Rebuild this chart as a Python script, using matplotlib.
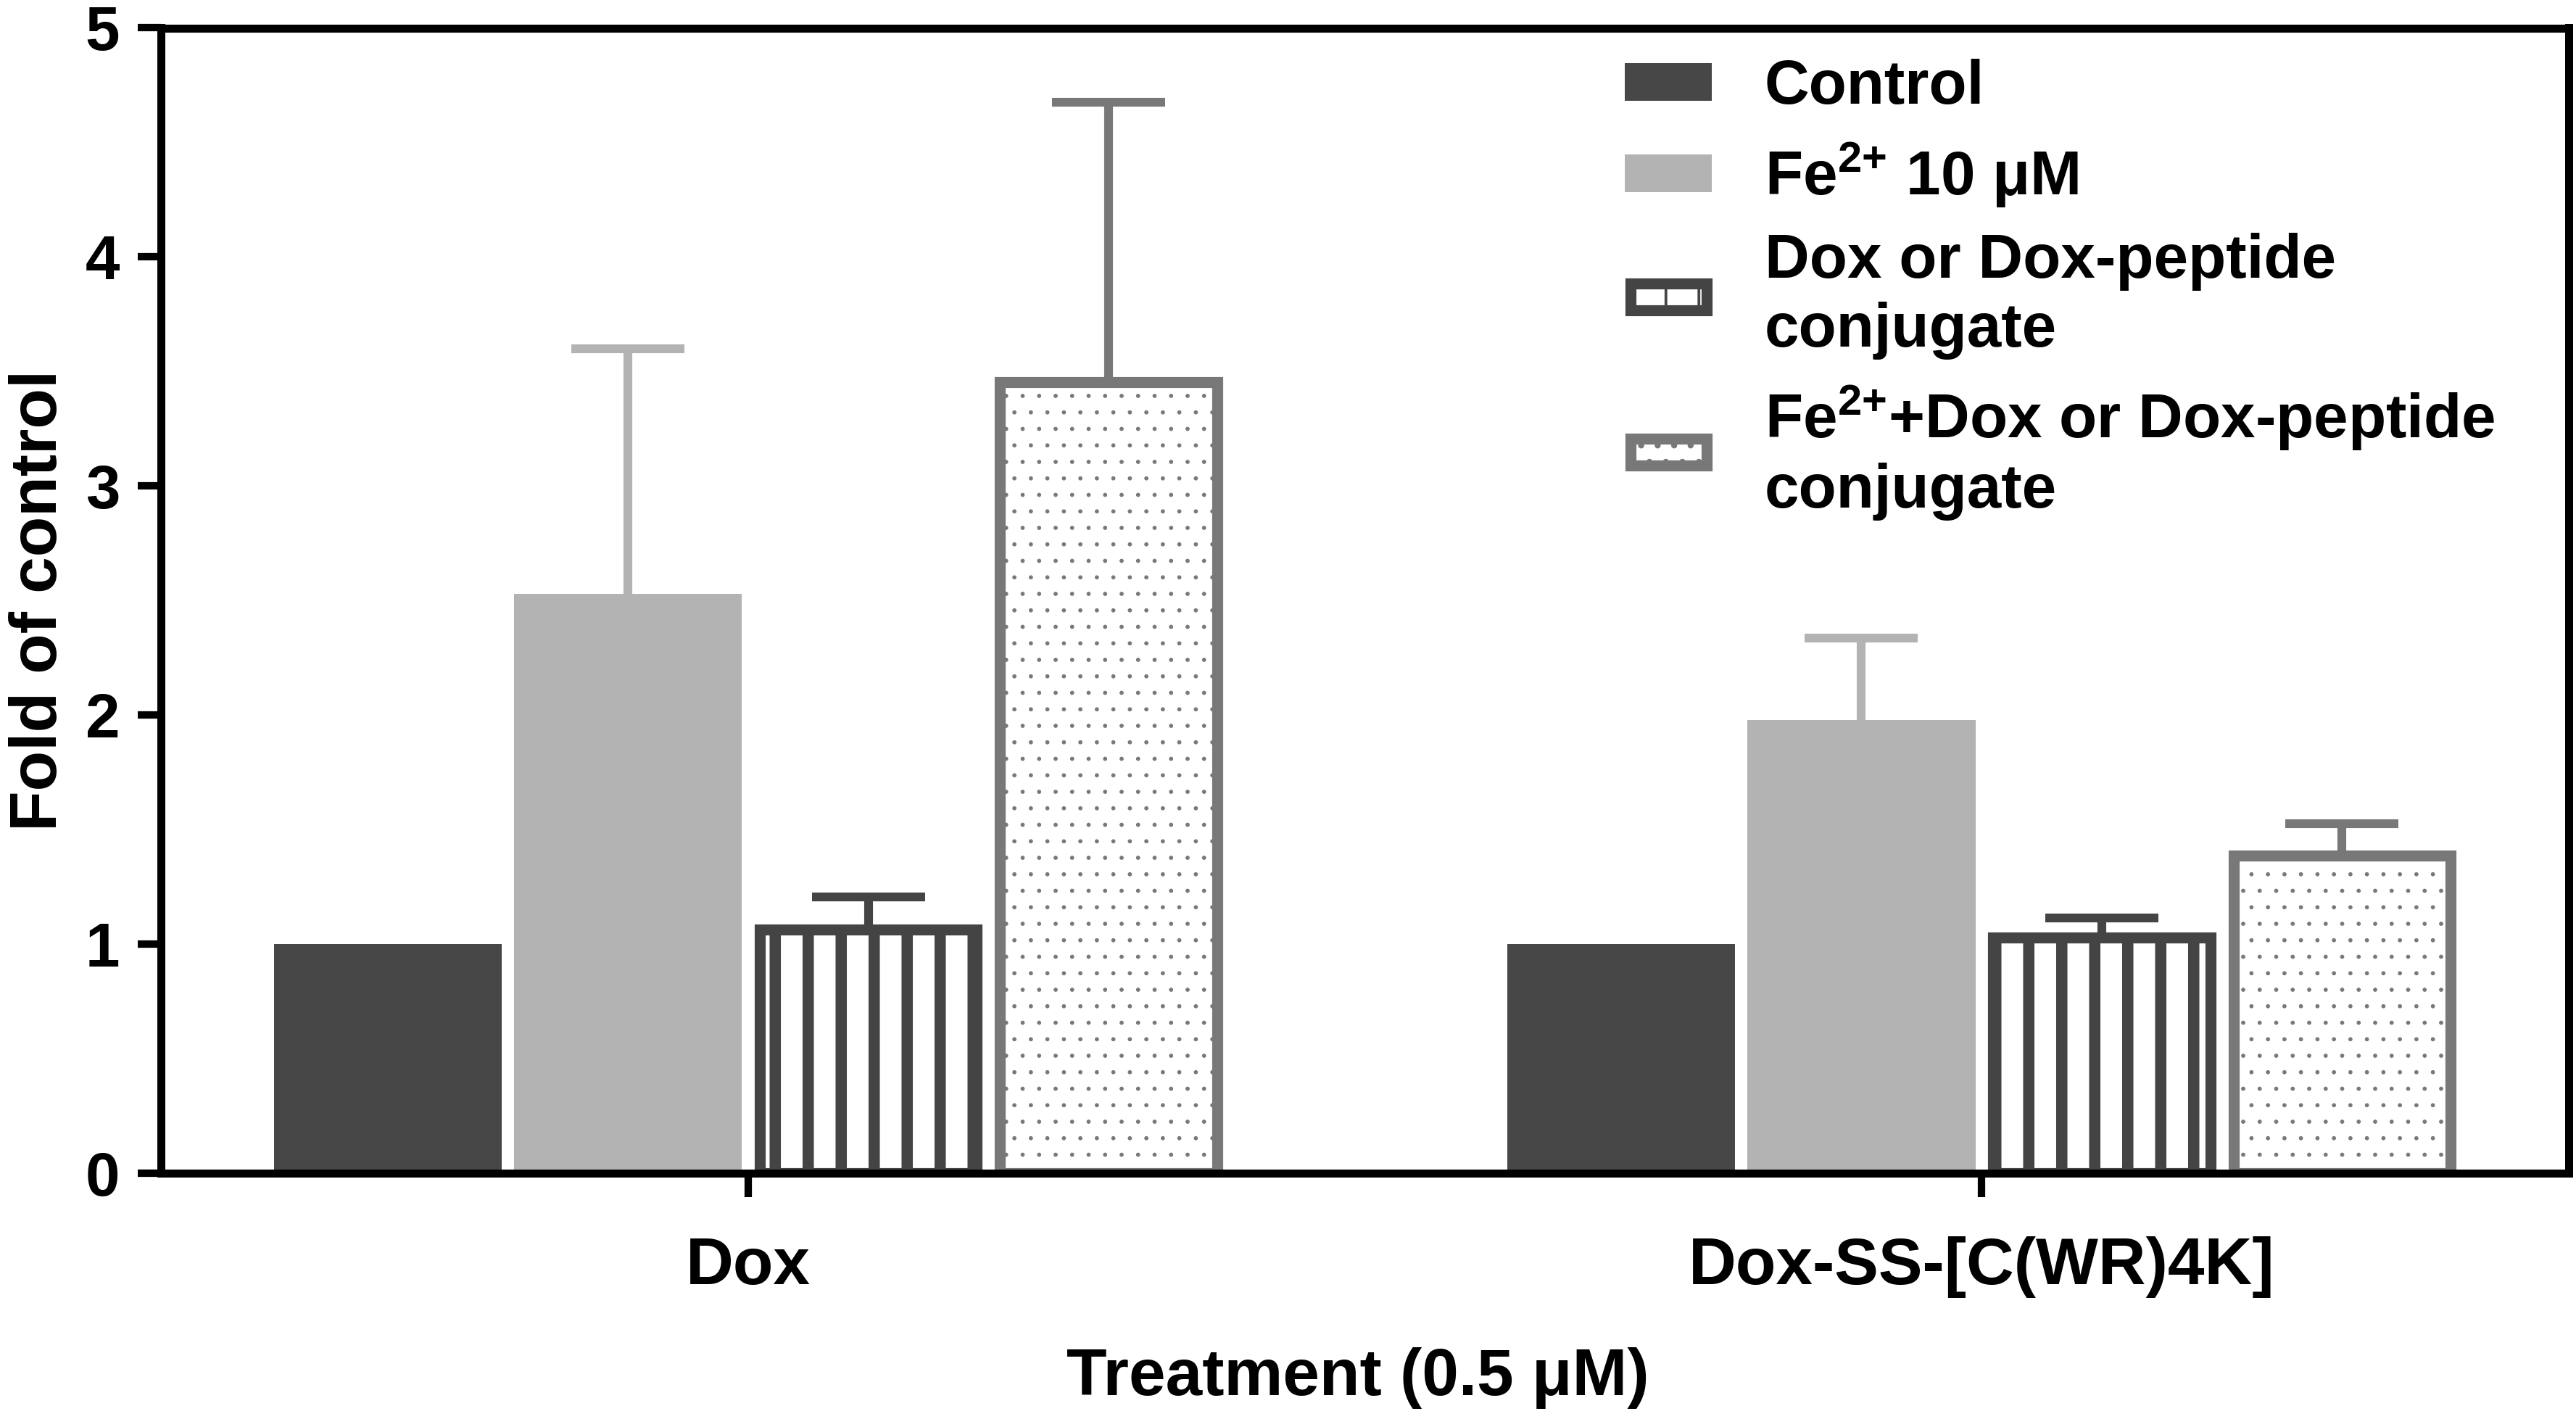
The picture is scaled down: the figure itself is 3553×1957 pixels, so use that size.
import numpy as np
import matplotlib
matplotlib.use('Agg')
import matplotlib.pyplot as plt
import matplotlib.patches as mpatches
from matplotlib.legend_handler import HandlerPatch

DPI = 273

plt.rcParams['font.family'] = ['Liberation Sans', 'DejaVu Sans']
plt.rcParams['font.weight'] = 'bold'
plt.rcParams['mathtext.fontset'] = 'custom'
plt.rcParams['mathtext.rm'] = 'Liberation Sans:bold'
plt.rcParams['mathtext.bf'] = 'Liberation Sans:bold'
plt.rcParams['mathtext.it'] = 'Liberation Sans:bold'

# data
groups = ['Dox', 'Dox-SS-[C(WR)4K]']
labels = ['Control',
          r'Fe$^{2{+}}$ 10 μM',
          'Dox or Dox-peptide\nconjugate',
          'Fe$^{2{+}}$+Dox or Dox-peptide\nconjugate']
control = [1.00, 1.00]
fe = [2.53, 1.98]
fe_err = [1.07, 0.355]
dox = [1.065, 1.03]
dox_err = [0.14, 0.085]
fe_dox = [3.455, 1.385]
fe_dox_err = [1.22, 0.14]

fig = plt.figure(figsize=(3553 / DPI, 1957 / DPI), dpi=DPI)
ax = fig.add_axes([222 / 3553, 1 - 1618 / 1957, 3321 / 3553, 1579.5 / 1957])

x = np.arange(len(groups))
pitch = 0.1948
width = 0.1848
edge_lw = 4.0
hatched_w = width - 0.0088

offs = (np.arange(4) - 1.5) * pitch

dark = '#474747'
light = '#b3b3b3'
mid = '#787878'


def errbars(xpos, vals, errs, color):
    eb = ax.errorbar(xpos, vals, yerr=[np.zeros(len(errs)), errs], fmt='none',
                     ecolor=color, elinewidth=3.2, capsize=20.7, capthick=3.2, zorder=1)
    # only the upper cap
    eb[1][0].set_visible(False)


def hatch_lw(bars, lw):
    for p in bars:
        if hasattr(p, 'set_hatch_linewidth'):
            p.set_hatch_linewidth(lw)


def copy_first(tgt, src):
    first = next(iter(src.get_children()), None)
    if first is not None:
        tgt.update_from(first)


class InsetHandler(HandlerPatch):
    # legend box drawn with its thick edge kept inside the box
    def __init__(self, inset, **kw):
        super().__init__(update_func=copy_first, **kw)
        self.inset = inset

    def _create_patch(self, legend, orig_handle, xdescent, ydescent, width, height, fontsize):
        d = self.inset
        return mpatches.Rectangle((-xdescent + d, -ydescent + d), width - 2 * d, height - 2 * d)


b1 = ax.bar(x + offs[0], control, width, color=dark, label=labels[0], zorder=2)

errbars(x + offs[1], fe, fe_err, light)
b2 = ax.bar(x + offs[1], fe, width, color=light, label=labels[1], zorder=2)

errbars(x + offs[2], dox, dox_err, '#444444')
with plt.rc_context({'hatch.linewidth': 4.1}):
    b3 = ax.bar(x + offs[2], dox, hatched_w, facecolor='white', edgecolor='#444444',
                linewidth=edge_lw, hatch='|', label=labels[2], zorder=2)
hatch_lw(b3, 4.1)

errbars(x + offs[3], fe_dox, fe_dox_err, mid)
with plt.rc_context({'hatch.linewidth': 0.3}):
    b4 = ax.bar(x + offs[3], fe_dox, hatched_w, facecolor='white', edgecolor=mid,
                linewidth=edge_lw, hatch='..', label=labels[3], zorder=2)
hatch_lw(b4, 0.3)

ax.set_xlim(-0.476, 1.476)
ax.set_ylim(0, 5)
ax.set_yticks([0, 1, 2, 3, 4, 5])
ax.set_xticks(x)
ax.set_xticklabels(groups, fontsize=24, fontweight='bold')
for t in ax.get_yticklabels():
    t.set_fontsize(22.5)
    t.set_fontweight('bold')

ax.tick_params(axis='y', length=8.4, width=2.7, pad=6.6, color='black')
ax.tick_params(axis='x', length=8.7, width=2.7, pad=14.3, color='black')

for s in ['left', 'bottom', 'top', 'right']:
    ax.spines[s].set_linewidth(2.9)

ax.set_ylabel('Fold of control', fontsize=24, fontweight='bold')
ax.yaxis.set_label_coords(-0.0375, 0.5)
ax.set_xlabel('Treatment (0.5 μM)', fontsize=24, fontweight='bold')
ax.xaxis.set_label_coords(0.497, -0.152)

leg = ax.legend(loc='upper left', bbox_to_anchor=(0.608, 0.973), bbox_transform=ax.transAxes,
                frameon=False, fontsize=22.5, borderpad=0, borderaxespad=0,
                handlelength=1.41, handleheight=0.565, handletextpad=0.85, labelspacing=0.38,
                handler_map={b3: InsetHandler(edge_lw / 2), b4: InsetHandler(edge_lw / 2)})
for t in leg.get_texts():
    t.set_linespacing(1.23)

plt.savefig('out.png', dpi=DPI)
